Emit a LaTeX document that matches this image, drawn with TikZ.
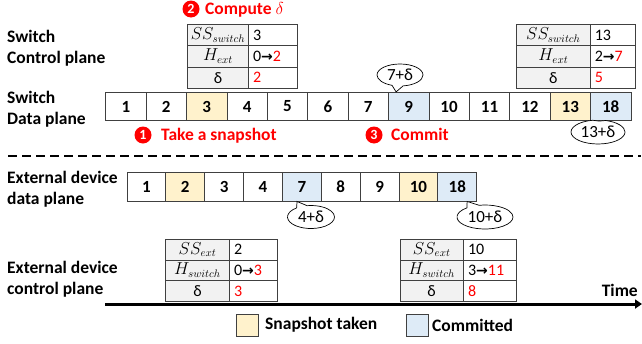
\documentclass[tikz,border=0pt]{standalone}
\usepackage{fontspec}
\setmainfont{Carlito}
\newfontfamily\symfont{DejaVu Sans}
\usetikzlibrary{shapes.callouts,arrows.meta}
\definecolor{snapc}{HTML}{FFF2CC}
\definecolor{commc}{HTML}{DEEBF7}
\definecolor{hdc}{HTML}{F2F2F2}
\definecolor{redc}{HTML}{FF0000}
\definecolor{edge}{HTML}{404040}
\newcommand\arr{{\symfont\fontsize{14}{14}\selectfont\raisebox{0.3pt}{\textbf{→}}}}
% one row of a state table: header cell, value cell and left-aligned value text
% #1 name, #2 left x, #3 divider x, #4 right x, #5 top y, #6 bottom y, #7 header, #8 value
\newcommand\trow[8]{%
  \node[hd, minimum width={#3-#2}, minimum height={#6-#5}] (#1h) at ({(#2+#3)/2},{(#5+#6)/2}) {#7};
  \node[vl, minimum width={#4-#3}, minimum height={#6-#5}] (#1b) at ({(#3+#4)/2},{(#5+#6)/2}) {};
  \node[tv, anchor=west] (#1v) at ([xshift=5pt]#1b.west) {#8};}
\begin{document}
\begin{tikzpicture}[x=1pt,y=-1pt,
  lbl/.style={font=\fontsize{17.5}{20}\selectfont\bfseries, anchor=base west, inner sep=0},
  redlbl/.style={lbl, text=redc},
  num/.style={circle, fill=redc, text=white, inner sep=0, minimum size=17pt,
    font=\fontsize{14}{14}\selectfont\bfseries},
  cell/.style={draw=edge, line width=0.8pt, inner sep=0, font=\fontsize{17}{17}\selectfont\bfseries},
  plain/.style={cell, fill=white},
  snap/.style={cell, fill=snapc},
  comm/.style={cell, fill=commc},
  hd/.style={draw=edge, line width=0.8pt, fill=hdc, inner sep=0, font=\fontsize{16}{16}\selectfont},
  vl/.style={draw=edge, line width=0.8pt, fill=white, inner sep=0},
  tv/.style={inner sep=0, font=\fontsize{16}{16}\selectfont},
  bubble/.style={ellipse callout, draw=black, line width=0.7pt, fill=white, inner sep=0,
    font=\fontsize{17}{17}\selectfont, callout pointer arc=28},
  rd/.style={text=redc}]
\useasboundingbox (0,0) rectangle (642,343);

% row labels
\node[lbl] (l1a) at (7,42.5) {Switch};
\node[lbl] (l1b) at (7,63.5) {Control plane};
\node[lbl] (l2a) at (7,103.5) {Switch};
\node[lbl] (l2b) at (7,124.5) {Data plane};
\node[lbl] (l3a) at (7,183.5) {External device};
\node[lbl] (l3b) at (7,204.5) {data plane};
\node[lbl] (l4a) at (7,273.5) {External device};
\node[lbl] (l4b) at (7,294.5) {control plane};

% switch data plane
\foreach \v/\st [count=\i from 0] in {1/plain,2/plain,3/snap,4/plain,5/plain,6/plain,7/plain,9/comm,10/plain,11/plain,12/plain,13/snap,18/comm}
  \node[\st, minimum width=40.4pt, minimum height=28.4pt] (s\v) at ({105.7+20.2+40.4*\i},106.5) {\v};

% external device data plane
\foreach \v/\st [count=\i from 0] in {1/plain,2/snap,3/plain,4/plain,7/comm,8/plain,9/plain,10/snap,18/comm}
  \node[\st, minimum width=38.86pt, minimum height=28.7pt] (e\v) at ({127+19.43+38.86*\i},186.7) {\v};

% switch control plane tables
\trow{ta1}{187.7}{248.3}{297.7}{24.3}{45.6}{$SS_{switch}$}{3}
\trow{ta2}{187.7}{248.3}{297.7}{45.6}{67}{$H_{ext}$}{0\arr\textcolor{redc}{2}}
\trow{ta3}{187.7}{248.3}{297.7}{67}{88.3}{δ}{\textcolor{redc}{2}}
\trow{tb1}{516.7}{590}{635}{24.3}{45.6}{$SS_{switch}$}{13}
\trow{tb2}{516.7}{590}{635}{45.6}{67}{$H_{ext}$}{2\arr\textcolor{redc}{7}}
\trow{tb3}{516.7}{590}{635}{67}{88.3}{δ}{\textcolor{redc}{5}}

% external device control plane tables
\trow{tc1}{165.7}{229.3}{277.7}{239}{259.9}{$SS_{ext}$}{2}
\trow{tc2}{165.7}{229.3}{277.7}{259.9}{280.8}{$H_{switch}$}{0\arr\textcolor{redc}{3}}
\trow{tc3}{165.7}{229.3}{277.7}{280.8}{301.7}{δ}{\textcolor{redc}{3}}
\trow{td1}{400}{463.3}{516}{239}{259.9}{$SS_{ext}$}{10}
\trow{td2}{400}{463.3}{516}{259.9}{280.8}{$H_{switch}$}{3\arr\textcolor{redc}{11}}
\trow{td3}{400}{463.3}{516}{280.8}{301.7}{δ}{\textcolor{redc}{8}}

% steps
\node[num] (n1) at (143,135) {1};
\node[redlbl] (t1) at (161,140.5) {Take a snapshot};
\node[num] (n2) at (191,9) {2};
\node[redlbl] (t2) at (205,14.5) {Compute $\delta$};
\node[num] (n3) at (374,135) {3};
\node[redlbl] (t3) at (391,140.5) {Commit};

% callouts
\node[bubble, minimum width=46pt, minimum height=22pt,
  callout absolute pointer={([xshift=8pt]s9.north west)}] (c1) at (400,75) {7+δ};
\node[bubble, minimum width=54pt, minimum height=24pt,
  callout absolute pointer={([xshift=9pt]s18.south west)}] (c2) at (598,132) {13+δ};
\node[bubble, minimum width=47pt, minimum height=23pt,
  callout absolute pointer={([xshift=15pt]e7.south west)}] (c3) at (311,217) {4+δ};
\node[bubble, minimum width=56pt, minimum height=24pt,
  callout absolute pointer={([xshift=-10pt]e18.south east)}] (c4) at (485,217) {10+δ};

% separator
\coordinate (dl) at (8,156);
\coordinate (dr) at (641,156);
\draw[line width=2.6pt, dash pattern=on 9pt off 5pt] (dl) -- (dr);

% time axis
\coordinate (ta) at (105,304);
\coordinate (tz) at (642,304);
\draw[line width=3pt, -{Triangle[length=7pt,width=9pt]}] (ta) -- (tz);
\node[lbl, anchor=base east] (time) at (638,296) {Time};

% legend
\node[draw=edge, line width=0.8pt, fill=snapc, minimum size=22pt, inner sep=0] (k1) at (247,325) {};
\node[lbl, anchor=west] (k1t) at (265,325) {Snapshot taken};
\node[draw=edge, line width=0.8pt, fill=commc, minimum size=22pt, inner sep=0] (k2) at (417,325) {};
\node[lbl, anchor=west] (k2t) at (432,325) {Committed};
\end{tikzpicture}
\end{document}
